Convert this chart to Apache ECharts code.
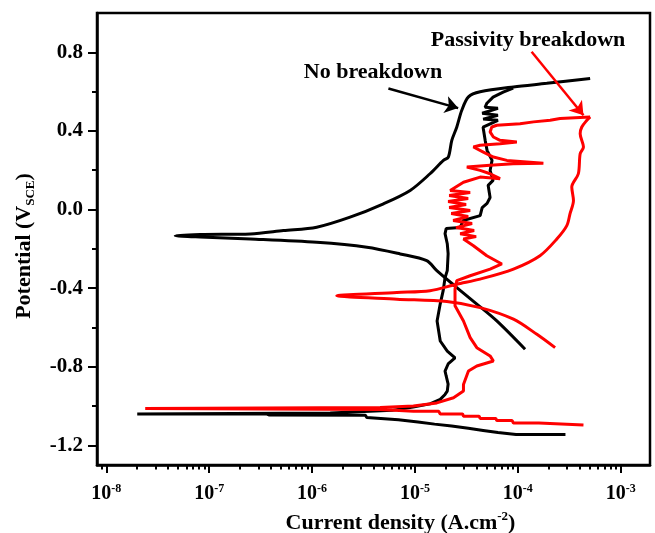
<!DOCTYPE html>
<html>
<head>
<meta charset="utf-8">
<script src="https://cdn.jsdelivr.net/npm/echarts@6.0.0/dist/echarts.min.js"></script>
<style>
html,body{margin:0;padding:0;background:#fff;}
#chart{width:655px;height:533px;}
</style>
</head>
<body>
<div id="chart"></div>
<script>
// tick values
var xMajor = [1e-8, 1e-7, 1e-6, 1e-5, 1e-4, 1e-3];
var xMinor = [9e-9,
	2e-8, 3e-8, 4e-8, 5e-8, 6e-8, 7e-8, 8e-8, 9e-8,
	2e-7, 3e-7, 4e-7, 5e-7, 6e-7, 7e-7, 8e-7, 9e-7,
	2e-6, 3e-6, 4e-6, 5e-6, 6e-6, 7e-6, 8e-6, 9e-6,
	2e-5, 3e-5, 4e-5, 5e-5, 6e-5, 7e-5, 8e-5, 9e-5,
	2e-4, 3e-4, 4e-4, 5e-4, 6e-4, 7e-4, 8e-4, 9e-4];
var yMajor = [-1.2, -0.8, -0.4, 0, 0.4, 0.8];
var yMinor = [-1.0, -0.6, -0.2, 0.2, 0.6];

// black: cathodic scan -> passive range -> noisy part
var blackScanA = [
	[2.9e-4,-1.145],[9.6e-5,-1.145],[9.4e-5,-1.136],[6.4e-5,-1.135],[6.2e-5,-1.126],[4.6e-5,-1.124],
	[4.5e-5,-1.115],[3.3e-5,-1.113],[3.2e-5,-1.104],[2.27e-5,-1.102],[2.2e-5,-1.093],[1.55e-5,-1.092],
	[1.5e-5,-1.083],[1.07e-5,-1.081],[1.04e-5,-1.072],[6.9e-6,-1.070],[6.7e-6,-1.060],[3.4e-6,-1.058],
	[3.3e-6,-1.047],[3.8e-7,-1.045],[3.6e-7,-1.040],[2.0e-8,-1.040],
	[1.5e-6,-1.035],[6.0e-6,-1.022],[9.6e-6,-1.005],[1.40e-5,-0.989],[1.76e-5,-0.966],[1.96e-5,-0.941],
	[2.06e-5,-0.924],[2.10e-5,-0.888],[2.01e-5,-0.847],[1.96e-5,-0.822],[2.10e-5,-0.786],[2.45e-5,-0.755],
	[2.06e-5,-0.720],[1.76e-5,-0.669],[1.64e-5,-0.567],[1.76e-5,-0.480],[1.88e-5,-0.413],[1.96e-5,-0.347],
	[2.06e-5,-0.311],[2.10e-5,-0.225],[2.06e-5,-0.174],[1.96e-5,-0.123],[2.01e-5,-0.097],[2.75e-5,-0.092],
	[2.94e-5,-0.056],[4.30e-5,-0.031],[4.50e-5,0.010],[5.02e-5,0.031],[5.37e-5,0.061],[5.14e-5,0.123],
	[5.74e-5,0.148],[5.37e-5,0.199],[5.61e-5,0.250],[5.02e-5,0.301],[4.81e-5,0.352],[4.59e-5,0.419],
	[6.4e-5,0.454],[4.6e-5,0.460],[6.4e-5,0.480],[4.5e-5,0.490],[6.4e-5,0.515],[4.8e-5,0.520],
	[5.0e-5,0.541],[5.74e-5,0.572],[7.2e-5,0.597],[9.0e-5,0.618]
];
// black: tafel curve, Ecorr ~ -0.13 V
var blackScanB = [
	[1.175e-4,-0.711],[6.24e-5,-0.567],[3.99e-5,-0.481],[2.55e-5,-0.397],[1.63e-5,-0.311],[1.30e-5,-0.260],
	[7.18e-6,-0.226],[3.41e-6,-0.192],[1.11e-6,-0.167],[2.51e-7,-0.150],[8.18e-8,-0.140],[4.68e-8,-0.133],
	[8.18e-8,-0.127],[2.51e-7,-0.124],[5.27e-7,-0.107],[1.11e-6,-0.090],[2.34e-6,-0.039],[4.94e-6,0.029],
	[8.98e-6,0.097],[1.40e-5,0.182],[1.89e-5,0.250],[2.11e-5,0.267],[2.28e-5,0.352],[2.55e-5,0.420],
	[2.85e-5,0.505],[3.31e-5,0.573],[4.30e-5,0.599],[9.06e-5,0.624],[1.91e-4,0.642],[5.04e-4,0.667]
];
// red: breakdown top -> noisy left side -> passive -> cathodic
var redScanA = [
	[5.04e-4,0.471],[2.57e-4,0.463],[2.06e-4,0.454],[1.42e-4,0.446],[1.05e-4,0.437],[6.24e-5,0.429],
	[5.58e-5,0.420],[5.37e-5,0.395],[5.78e-5,0.369],[6.71e-5,0.352],[9.77e-5,0.344],[6.71e-5,0.335],
	[4.30e-5,0.327],[3.70e-5,0.318],[4.62e-5,0.292],[5.78e-5,0.267],[7.82e-5,0.250],[1.77e-4,0.236],
	[9.0e-5,0.233],[5.37e-5,0.225],[3.19e-5,0.216],[4.30e-5,0.199],[5.37e-5,0.182],[6.71e-5,0.157],
	[4.30e-5,0.165],[2.96e-5,0.139],[2.20e-5,0.097],[3.44e-5,0.087],[2.15e-5,0.071],[3.29e-5,0.056],
	[2.10e-5,0.041],[3.14e-5,0.026],[2.15e-5,0.010],[3.44e-5,-0.005],[2.25e-5,-0.020],[3.29e-5,-0.036],
	[2.35e-5,-0.056],[3.59e-5,-0.071],[2.51e-5,-0.092],[3.76e-5,-0.107],[2.75e-5,-0.123],[3.93e-5,-0.138],
	[2.96e-5,-0.150],[3.70e-5,-0.184],[4.99e-5,-0.235],[6.98e-5,-0.277],[5.37e-5,-0.303],[3.44e-5,-0.337],
	[2.55e-5,-0.362],[2.45e-5,-0.405],[2.45e-5,-0.490],[2.96e-5,-0.567],[3.44e-5,-0.652],[3.99e-5,-0.703],
	[5.37e-5,-0.745],[5.78e-5,-0.771],[3.99e-5,-0.796],[3.31e-5,-0.822],[2.96e-5,-0.890],[2.96e-5,-0.924],
	[2.37e-5,-0.958],[1.63e-5,-0.984],[9.66e-6,-1.000],[4.59e-6,-1.008],[2.39e-8,-1.013],[4.59e-6,-1.018],
	[9.66e-6,-1.026],[1.70e-5,-1.026],[1.76e-5,-1.040],[2.9e-5,-1.040],[2.96e-5,-1.052],[4.2e-5,-1.052],
	[4.3e-5,-1.063],[6.1e-5,-1.063],[6.24e-5,-1.074],[8.8e-5,-1.074],[9.05e-5,-1.086],[1.6e-4,-1.086],
	[1.64e-4,-1.094],[4.34e-4,-1.097]
];
// red: right side after breakdown -> tafel curve, Ecorr ~ -0.44 V
var redScanB = [
	[5.04e-4,0.471],[4.68e-4,0.454],[4.18e-4,0.420],[4.03e-4,0.386],[4.34e-4,0.318],[4.03e-4,0.284],
	[3.87e-4,0.182],[3.34e-4,0.114],[3.47e-4,0.046],[3.21e-4,-0.022],[2.99e-4,-0.082],[2.39e-4,-0.150],
	[1.64e-4,-0.235],[9.06e-5,-0.303],[4.30e-5,-0.354],[2.55e-5,-0.380],[1.40e-5,-0.413],[6.67e-6,-0.422],
	[1.74e-6,-0.439],[6.67e-6,-0.456],[2.04e-5,-0.468],[4.30e-5,-0.499],[9.06e-5,-0.558],[1.53e-4,-0.635],
	[2.30e-4,-0.703]
];
// annotation arrows [from, to]
var arrowNoBreakdown = [[5.52e-6, 0.616], [2.63e-5, 0.516]];
var arrowBreakdown = [[1.36e-4, 0.803], [4.34e-4, 0.480]];

var serif = '"Liberation Serif", "Times New Roman", serif';
var supStyle = {fontSize: 12, fontWeight: 'bold', fontFamily: serif, color: '#000', verticalAlign: 'top', lineHeight: 12};

function curve(name, data, color, smooth, mark) {
	var s = {
		name: name,
		type: 'line',
		data: data,
		symbol: 'none',
		showSymbol: false,
		silent: true,
		smooth: smooth,
		lineStyle: {color: color, width: 3},
		itemStyle: {color: color},
		z: color == '#ff0000' ? 3 : 2
	};
	if (mark) {
		s.markLine = {
			silent: true,
			animation: false,
			symbol: ['none', 'arrow'],
			symbolSize: 13,
			label: {show: false},
			lineStyle: {color: color, width: 2.5, type: 'solid'},
			data: [[{coord: mark[0]}, {coord: mark[1]}]]
		};
	}
	return s;
}

var xMin = Math.pow(10, -8.09), xMax = Math.pow(10, -2.716);

var option = {
	animation: false,
	backgroundColor: '#fff',
	grid: {left: 97, right: 5, top: 13, bottom: 68, outerBoundsMode: 'none', containLabel: false,
		show: true, borderColor: '#000', borderWidth: 2.5},
	xAxis: [{
		type: 'log',
		min: xMin,
		max: xMax,
		position: 'bottom',
		name: 'Current density (A.cm{sup|-2})',
		nameLocation: 'middle',
		nameGap: 38,
		nameTextStyle: {
			fontFamily: serif, fontWeight: 'bold', fontSize: 22, color: '#000', lineHeight: 26,
			padding: [0, 0, 0, 54],
			rich: {sup: {fontSize: 13, fontWeight: 'bold', fontFamily: serif, color: '#000', verticalAlign: 'top', lineHeight: 13}}
		},
		axisLine: {show: true, onZero: false, lineStyle: {color: '#000', width: 2.5}},
		axisTick: {show: true, length: 8, lineStyle: {color: '#000', width: 2}, customValues: xMajor},
		axisLabel: {
			color: '#000', fontFamily: serif, fontWeight: 'bold', fontSize: 20, lineHeight: 22, margin: 18,
			customValues: xMajor,
			formatter: function(v) { return '10{sup|' + Math.round(Math.log10(v)) + '}'; },
			rich: {sup: supStyle}
		},
		splitLine: {show: false}
	}, {
		type: 'log',
		min: xMin,
		max: xMax,
		position: 'bottom',
		axisLine: {show: false, onZero: false},
		axisTick: {show: true, length: 4.5, lineStyle: {color: '#000', width: 2}, customValues: xMinor},
		axisLabel: {show: false},
		splitLine: {show: false}
	}],
	yAxis: [{
		type: 'value',
		min: -1.3,
		max: 1.0,
		name: 'Potential (V{sub|SCE})',
		nameLocation: 'middle',
		nameGap: 60,
		nameTextStyle: {
			fontFamily: serif, fontWeight: 'bold', fontSize: 22, color: '#000', lineHeight: 26,
			padding: [0, 14, 0, 0],
			rich: {sub: {fontSize: 13, fontWeight: 'bold', fontFamily: serif, color: '#000', verticalAlign: 'bottom', lineHeight: 13}}
		},
		axisLine: {show: true, onZero: false, lineStyle: {color: '#000', width: 2.5}},
		axisTick: {show: true, length: 9, lineStyle: {color: '#000', width: 2}, customValues: yMajor},
		axisLabel: {
			color: '#000', fontFamily: serif, fontWeight: 'bold', fontSize: 21, margin: 14,
			customValues: yMajor,
			formatter: function(v) { return v.toFixed(1); }
		},
		splitLine: {show: false}
	}, {
		type: 'value',
		min: -1.3,
		max: 1.0,
		position: 'left',
		axisLine: {show: false, onZero: false},
		axisTick: {show: true, length: 5, lineStyle: {color: '#000', width: 2}, customValues: yMinor},
		axisLabel: {show: false},
		splitLine: {show: false}
	}],
	graphic: [{
		type: 'text', x: 373, y: 72,
		style: {text: 'No breakdown', font: 'bold 22px ' + serif, fill: '#000', textAlign: 'center', textVerticalAlign: 'middle'}
	}, {
		type: 'text', x: 528, y: 40,
		style: {text: 'Passivity breakdown', font: 'bold 22px ' + serif, fill: '#000', textAlign: 'center', textVerticalAlign: 'middle'}
	}],
	series: [
		curve('black-1', blackScanA, '#000', false),
		curve('black-2', blackScanB, '#000', 0.3, arrowNoBreakdown),
		curve('red-1', redScanA, '#ff0000', false, arrowBreakdown),
		curve('red-2', redScanB, '#ff0000', 0.3)
	]
};

var myChart = echarts.init(document.getElementById('chart'), null, {renderer: 'canvas'});
myChart.setOption(option);
</script>
</body>
</html>
